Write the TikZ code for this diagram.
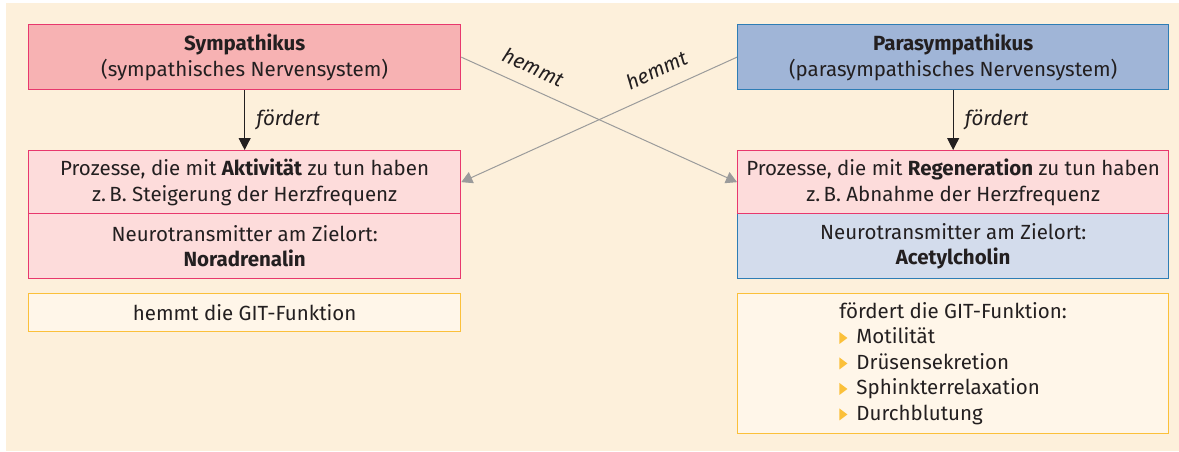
\documentclass[tikz,border=0pt]{standalone}
\usepackage{fontspec}
\setmainfont{Fira Sans}[Ligatures=NoCommon]
\usepackage{tikz}
\usetikzlibrary{positioning}
\usetikzlibrary{arrows.meta}
\usepackage{xcolor}
\definecolor{bgcream}{HTML}{FDF0DB}
\definecolor{sympfill}{HTML}{F7B2B3}
\definecolor{sympline}{HTML}{E8386D}
\definecolor{procfill}{HTML}{FDDCDB}
\definecolor{parafill}{HTML}{A0B5D7}
\definecolor{paraline}{HTML}{2E7DB5}
\definecolor{achfill}{HTML}{D3DCEC}
\definecolor{gitfill}{HTML}{FFF6E9}
\definecolor{gitline}{HTML}{FBC03A}
\definecolor{hemmgray}{HTML}{9B9B9B}
\definecolor{txt}{HTML}{231F20}
\newcommand{\gitbullet}{\textcolor{gitline}{\tikz[baseline=0pt]\fill (0pt,0pt) -- (0pt,12pt) -- (8pt,6pt) -- cycle;}\hspace{9pt}}

\begin{document}
\begin{tikzpicture}[x=1pt, y=-1pt, font=\fontsize{20.5}{25.5}\selectfont, text=txt,
box/.style={anchor=north west, draw, line width=1.3pt, inner sep=0pt, align=center},
pinkbox/.style={box, draw=sympline, fill=procfill},
gitbox/.style={box, draw=gitline, fill=gitfill},
fordert/.style={draw=txt, line width=1pt, -{Triangle[length=12pt,width=12pt]}},
hemmt/.style={draw=hemmgray, line width=1pt, -{Triangle[length=11pt,width=12pt]}}]
\useasboundingbox (0,0) rectangle (1179,451);
\fill[bgcream] (6,3) rectangle (1179,451);
% linke Seite
\node[pinkbox, fill=sympfill, minimum width=432pt, minimum height=65pt] (symp) at (28,24)
  {\textbf{Sympathikus}\\(sympathisches Nervensystem)};
\node[pinkbox, minimum width=432pt, minimum height=63pt] (akt) at (28,150)
  {Prozesse, die mit \textbf{Aktivität} zu tun haben\\z.\,B. Steigerung der Herzfrequenz};
\node[pinkbox, minimum width=432pt, minimum height=65pt] (noradr) at (28,213)
  {Neurotransmitter am Zielort:\\\textbf{Noradrenalin}};
\node[gitbox, minimum width=432pt, minimum height=38pt] (githemmt) at (28,293)
  {hemmt die GIT-Funktion};
% rechte Seite
\node[box, draw=paraline, fill=parafill, minimum width=431pt, minimum height=65pt] (para) at (737,24)
  {\textbf{Parasympathikus}\\(parasympathisches Nervensystem)};
\node[box, draw=paraline, fill=achfill, minimum width=431pt, minimum height=65pt] (ach) at (737,213)
  {Neurotransmitter am Zielort:\\\textbf{Acetylcholin}};
\node[pinkbox, minimum width=431pt, minimum height=63pt] (reg) at (737,150)
  {Prozesse, die mit \textbf{Regeneration} zu tun haben\\z.\,B. Abnahme der Herzfrequenz};
\node[gitbox, minimum width=431pt, minimum height=140pt] (gitfoerd) at (737,293) {};
\node[align=left, inner sep=0pt] (gitlist) at (gitfoerd.center)
  {fördert die GIT-Funktion:\\\gitbullet Motilität\\\gitbullet Drüsensekretion\\\gitbullet Sphinkterrelaxation\\\gitbullet Durchblutung};
% Pfeile
\draw[fordert] (symp) -- (akt) node[midway, right=8pt] {\textit{fördert}};
\draw[fordert] (para) -- (reg) node[midway, right=8pt] {\textit{fördert}};
\draw[hemmt] (symp.east) -- (reg.west) node[pos=0.23, above=9pt, sloped] {\textit{hemmt}};
\draw[hemmt] (para.west) -- (akt.east) node[pos=0.26, above=10pt, sloped] {\textit{hemmt}};
\end{tikzpicture}
\end{document}
